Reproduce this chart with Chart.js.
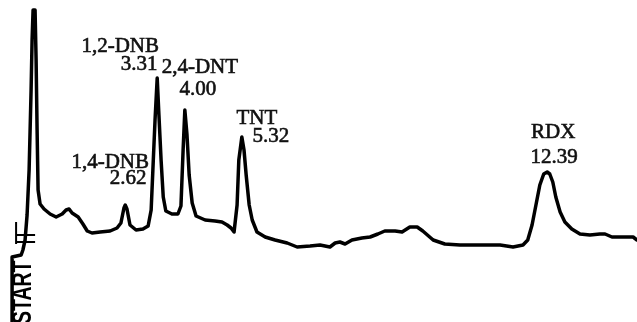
<!DOCTYPE html>
<html>
<head>
<meta charset="utf-8">
<script src="https://cdn.jsdelivr.net/npm/chart.js@4"></script>
<style>
  html, body { margin: 0; padding: 0; background: #fff; }
  #wrap { width: 637px; height: 322px; position: relative; }
</style>
</head>
<body>
<div id="wrap"><canvas id="chrom"></canvas></div>
<script>
// retention time (min) and detector signal
const times = [
    0.000, 0.000, 0.21, 0.25, 0.301, 0.347, 0.394, 0.440, 0.463, 0.486,
    0.532, 0.556, 0.579, 0.602, 0.648, 0.74, 0.88, 1.02,
    1.16, 1.25, 1.32, 1.39, 1.53, 1.64, 1.74, 1.85, 2.04, 2.27,
    2.43, 2.52, 2.59, 2.62, 2.66, 2.73, 2.87, 3.03, 3.15, 3.22,
    3.26, 3.31, 3.36, 3.40, 3.45, 3.50, 3.56, 3.70, 3.84, 3.91,
    3.96, 4.00, 4.05, 4.10, 4.17, 4.26, 4.47, 4.70, 4.86, 4.98,
    5.07, 5.14, 5.21, 5.25, 5.32, 5.37, 5.42, 5.49, 5.56, 5.67,
    5.86, 6.09, 6.37, 6.60, 6.90, 7.13, 7.36, 7.48, 7.59, 7.71,
    7.87, 8.10, 8.29, 8.47, 8.63, 8.87, 9.03, 9.21, 9.38, 9.51,
    9.75, 10.02, 10.37, 10.83, 11.30, 11.60, 11.83, 11.94, 12.04, 12.13,
    12.22, 12.31, 12.39, 12.45, 12.52, 12.59, 12.69, 12.80, 12.96, 13.15,
    13.38, 13.61, 13.73, 13.89, 14.19, 14.38, 14.47,
];
const signal = [
    0, 65, 67, 72, 82, 107, 152, 232, 282, 312,
    312, 262, 192, 132, 118, 113, 108, 105,
    108, 112, 113, 109, 105, 98, 91, 89, 90, 91,
    94, 99, 114, 117, 113, 97, 92, 93, 96, 112,
    152, 202, 244, 207, 162, 125, 111, 108, 108, 116,
    172, 212, 187, 147, 119, 106, 102, 101, 100, 97,
    94, 90, 117, 162, 185, 172, 147, 117, 102, 90,
    85, 82, 79, 75, 76, 77, 75, 79, 80, 78,
    82, 84, 85, 88, 91, 91, 90, 95, 95, 91,
    82, 78, 77, 77, 77, 75, 77, 82, 97, 117,
    137, 148, 150, 148, 140, 125, 110, 100, 93, 88,
    87, 88, 88, 85, 85, 85, 82,
];

const peakNames = ['1,4-DNB', '1,2-DNB', '2,4-DNT', 'TNT', 'RDX'];
const peakTimes = [2.62, 3.31, 4.00, 5.32, 12.39];
const startLabel = 'START';

// label placement relative to the apex pixel: [nameDx, nameDy, timeDx, timeDy]
const labelOffsets = [
    [-15, -37, 3, -21],
    [-37, -26, -18, -8],
    [15, -37, 13, -15],
    [15, -13, 29, 5],
    [6, -34, 7, -9],
];

const points = times.map((t, i) => ({ x: t, y: signal[i] }));

function apexOf(t) {
    let best = null;
    points.forEach((p) => {
        if (Math.abs(p.x - t) <= 0.1 && (!best || p.y > best.y)) best = p;
    });
    return best;
}

const peakLabels = {
    id: 'peakLabels',
    afterDatasetsDraw(chart) {
        const { ctx, scales: { x, y } } = chart;
        ctx.save();
        ctx.fillStyle = '#111';
        ctx.strokeStyle = '#111';
        ctx.lineWidth = 0.6;
        ctx.font = '21px "Liberation Serif", "Times New Roman", serif';
        ctx.textAlign = 'center';
        ctx.textBaseline = 'alphabetic';
        peakNames.forEach((name, i) => {
            const apex = apexOf(peakTimes[i]);
            const px = x.getPixelForValue(apex.x);
            const py = y.getPixelForValue(apex.y);
            const [nx, ny, tx, ty] = labelOffsets[i];
            const tl = peakTimes[i].toFixed(2);
            ctx.fillText(name, px + nx, py + ny);
            ctx.strokeText(name, px + nx, py + ny);
            ctx.fillText(tl, px + tx, py + ty);
            ctx.strokeText(tl, px + tx, py + ty);
        });

        // injection mark and rotated START text
        const x0 = x.getPixelForValue(0);
        const yb = y.getPixelForValue(0);
        ctx.strokeStyle = '#000';
        ctx.lineWidth = 2;
        ctx.beginPath();
        ctx.moveTo(x0 + 3, yb - 80); ctx.lineTo(x0 + 23, yb - 80);
        ctx.moveTo(x0 + 3, yb - 87); ctx.lineTo(x0 + 23, yb - 87);
        ctx.moveTo(x0 + 4, yb - 100); ctx.lineTo(x0 + 4, yb - 78);
        ctx.stroke();

        ctx.translate(x0 + 11, yb + 2);
        ctx.rotate(-Math.PI / 2);
        ctx.scale(0.72, 1);
        ctx.font = 'bold 27px "Liberation Sans", Arial, sans-serif';
        ctx.textAlign = 'left';
        ctx.textBaseline = 'middle';
        ctx.fillStyle = '#000';
        ctx.fillText(startLabel, 0, 0);
        ctx.restore();
    },
};

new Chart(document.getElementById('chrom'), {
    type: 'scatter',
    data: {
        datasets: [{
            data: points,
            showLine: true,
            borderColor: '#000',
            borderWidth: 3.5,
            borderJoinStyle: 'round',
            borderCapStyle: 'round',
            pointRadius: 0,
            tension: 0,
            clip: false,
        }],
    },
    options: {
        responsive: true,
        maintainAspectRatio: false,
        animation: false,
        layout: { padding: 0 },
        plugins: { legend: { display: false }, tooltip: { enabled: false } },
        scales: {
            x: { type: 'linear', min: -0.28, max: 14.47, display: false },
            y: { type: 'linear', min: 0, max: 322, display: false },
        },
    },
    plugins: [peakLabels],
});
</script>
</body>
</html>
